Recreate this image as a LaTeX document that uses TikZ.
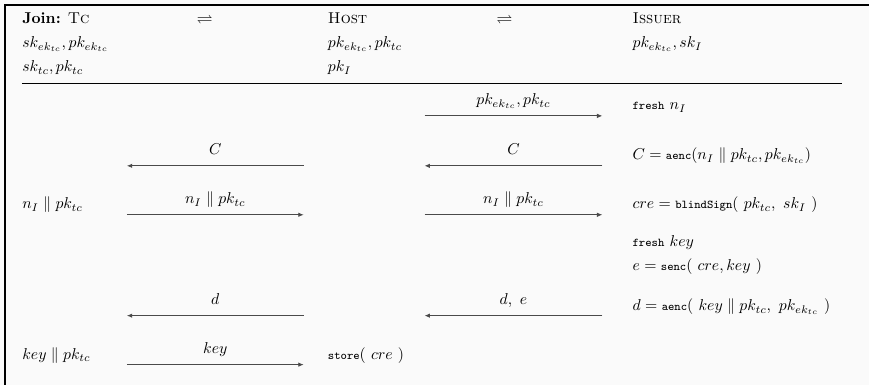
\documentclass[tikz,border=0pt]{standalone}
\usepackage{amsmath,amssymb}
\usepackage{xcolor}
\usepackage{tikz}
\usetikzlibrary{arrows.meta}
\definecolor{Paper}{HTML}{FAFAFA}
\definecolor{Wire}{HTML}{4A4A4A}
\newcommand{\tfn}[1]{\text{\fontsize{7.6pt}{9pt}\selectfont\ttfamily #1}}

\begin{document}
\begin{tikzpicture}[x=0.635pt, y=-0.635pt, every node/.style={inner sep=0pt}, txt/.style={anchor=base west}, mid/.style={anchor=base}, lbl/.style={anchor=base,yshift=7pt}, arr/.style={-{Latex[length=1.2mm,width=1mm]},line width=0.55pt,draw=Wire}]
\fill[Paper] (0,0) rectangle (870,385);
\draw[line width=1.2pt] (5,385) -- (5,5) -- (870,5);
\node[txt] (tc) at (22,24) {\textbf{Join:} \textsc{Tc}};
\node[mid] (sw1) at (205,24) {$\rightleftharpoons$};
\node[txt] (host) at (328,24) {\textsc{Host}};
\node[mid] (sw2) at (505,24) {$\rightleftharpoons$};
\node[txt] (iss) at (633,24) {\textsc{Issuer}};
\node[txt] (tcA) at (22,48) {$sk_{ek_{tc}}, pk_{ek_{tc}}$};
\node[txt] (tcB) at (22,72) {$sk_{tc}, pk_{tc}$};
\node[txt] (hostA) at (328,48) {$pk_{ek_{tc}}, pk_{tc}$};
\node[txt] (hostB) at (328,72) {$pk_I$};
\node[txt] (issA) at (633,48) {$pk_{ek_{tc}}, sk_I$};
\draw[line width=0.6pt] (22,84) -- (843,84);
\node[txt] (fresh) at (633,110) {\tfn{fresh} $n_I$};
\node[txt] (cdef) at (633,160) {$C = \tfn{aenc}(n_I \parallel pk_{tc}, pk_{ek_{tc}})$};
\node[txt] (nonce) at (22,209) {$n_I \parallel pk_{tc}$};
\node[txt] (cre) at (633,209) {$cre = \tfn{blindSign}(\ pk_{tc},\ sk_I\ )$};
\node[txt] (freshkey) at (633,247) {\tfn{fresh} $key$};
\node[txt] (edef) at (633,271) {$e = \tfn{senc}(\ cre, key\ )$};
\node[txt] (ddef) at (633,311) {$d = \tfn{aenc}(\ key \parallel pk_{tc},\ pk_{ek_{tc}}\ )$};
\node[txt] (keytc) at (22,360) {$key \parallel pk_{tc}$};
\node[txt] (store) at (328,360) {\tfn{store}$(\ cre\ )$};
\coordinate (r1a) at (425,116); \coordinate (r1b) at (603,116);
\coordinate (l2a) at (127,166); \coordinate (l2b) at (304,166); \coordinate (r2a) at (425,166); \coordinate (r2b) at (603,166);
\coordinate (l3a) at (127,215); \coordinate (l3b) at (304,215); \coordinate (r3a) at (425,215); \coordinate (r3b) at (603,215);
\coordinate (l4a) at (127,316); \coordinate (l4b) at (304,316); \coordinate (r4a) at (425,316); \coordinate (r4b) at (603,316);
\coordinate (l5a) at (127,365); \coordinate (l5b) at (304,365);
\draw[arr] (r1a) -- node[lbl] {$pk_{ek_{tc}}, pk_{tc}$} (r1b);
\draw[arr] (l2b) -- node[lbl] {$C$} (l2a); \draw[arr] (r2b) -- node[lbl] {$C$} (r2a);
\draw[arr] (l3a) -- node[lbl] {$n_I \parallel pk_{tc}$} (l3b); \draw[arr] (r3a) -- node[lbl] {$n_I \parallel pk_{tc}$} (r3b);
\draw[arr] (l4b) -- node[lbl] {$d$} (l4a); \draw[arr] (r4b) -- node[lbl] {$d,\ e$} (r4a);
\draw[arr] (l5a) -- node[lbl] {$key$} (l5b);
\end{tikzpicture}
\end{document}
